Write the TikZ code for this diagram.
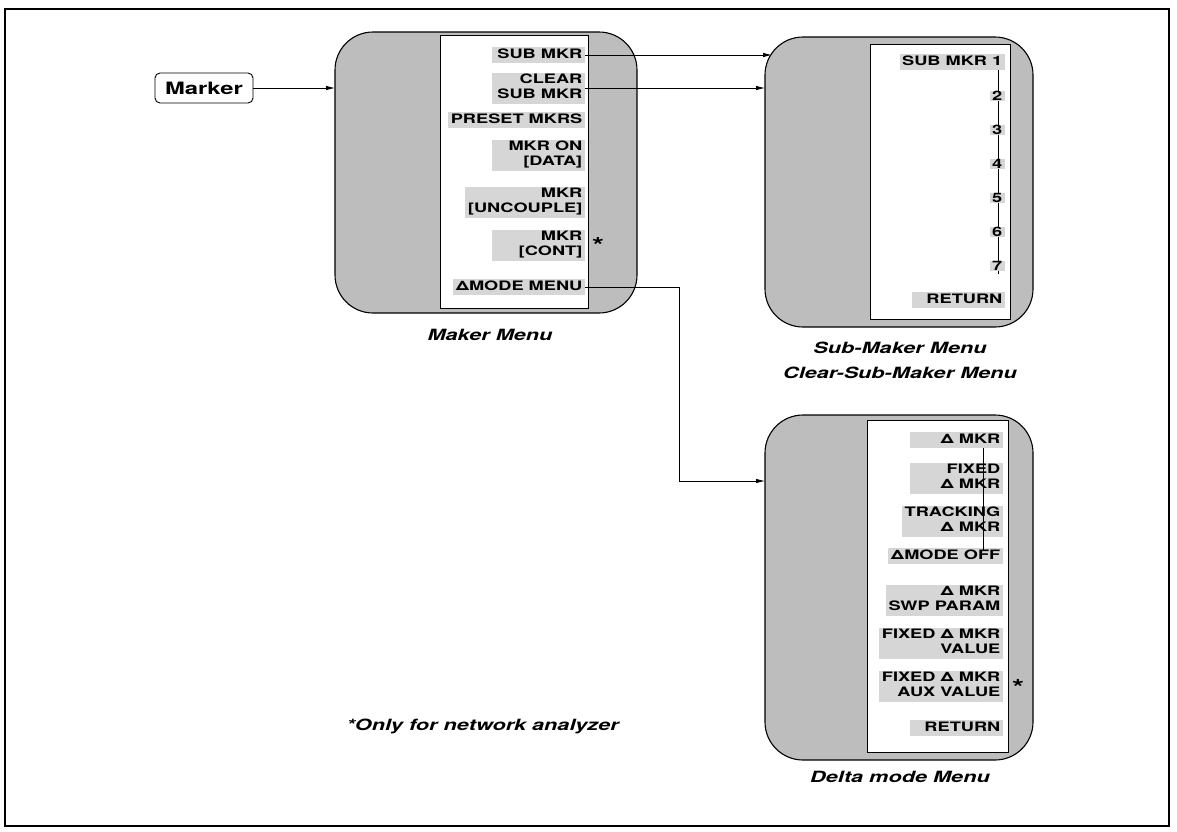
\documentclass[tikz,border=0pt]{standalone}
\usepackage{fontspec}
\setmainfont{TeX Gyre Heros}
\newfontfamily\mf[FakeStretch=1.4]{TeX Gyre Heros}
\usetikzlibrary{arrows.meta}
\definecolor{boxgray}{gray}{0.74}
\definecolor{hl}{gray}{0.84}
\newcommand\rbox[1]{\setbox0\hbox{#1}\ifdim\wd0<88pt\hbox to 88pt{\hfill\box0}\else\box0\fi}
\newcommand\mitem[1]{\rbox{\begin{tabular}{@{}r@{}}#1\end{tabular}}}
\tikzset{
  menubox/.style={draw, line width=1.1pt, fill=boxgray, rounded corners=38pt, inner sep=0pt, outer sep=0pt},
  panel/.style={draw, line width=0.8pt, fill=white, inner sep=0pt, outer sep=0pt},
  item/.style={anchor=east, fill=hl, inner xsep=2.5pt, inner ysep=0.5pt, font=\mf\bfseries\fontsize{13}{15}\selectfont},
  capt/.style={font=\mf\bfseries\itshape\fontsize{15.5}{18}\selectfont},
  conn/.style={line width=0.8pt, -{Latex[length=9pt,width=4.5pt]}},
  plainline/.style={line width=0.6pt},
  ast/.style={font=\mf\bfseries\fontsize{22}{22}\selectfont, inner sep=0pt}
}
\begin{document}
\begin{tikzpicture}[x=1pt,y=-1pt]
\path[use as bounding box] (0,0) rectangle (1177,831);
\draw[line width=1.2pt] (5,9) rectangle (1169,826);

% Marker key
\node[draw, line width=0.9pt, rounded corners=5pt, fill=white, minimum width=98pt, minimum height=30pt, inner sep=0pt,
      font=\mf\bfseries\fontsize{17}{18}\selectfont] (marker) at (204,88) {Marker};

% Menu boxes
\node[menubox, minimum width=302pt, minimum height=281pt] (maker) at (486,172.5) {};
\node[panel, minimum width=148pt, minimum height=273pt] (makerp) at (514,171.5) {};
\node[menubox, minimum width=268pt, minimum height=290pt] (sub) at (899,182) {};
\node[panel, minimum width=140pt, minimum height=275pt] (subp) at (940,181.5) {};
\node[menubox, minimum width=268pt, minimum height=345pt] (delta) at (899,587.5) {};
\node[panel, minimum width=141pt, minimum height=332pt] (deltap) at (937.5,586) {};

% Maker menu items
\node[item] (m1) at (585,55) {\mitem{SUB MKR}};
\node[item] (m2) at (585,88) {\mitem{CLEAR\\SUB MKR}};
\node[item] (m3) at (585,120) {\mitem{PRESET MKRS}};
\node[item] (m4) at (585,155) {\mitem{MKR ON\\{[DATA]}}};
\node[item] (m5) at (585,202) {\mitem{MKR\\{[UNCOUPLE]}}};
\node[item] (m6) at (585,245) {\mitem{MKR\\{[CONT]}}};
\node[item] (m7) at (585,287) {\mitem{ΔMODE MENU}};
\node[ast] (ast1) at (598,245) {*};

% Sub menu items
\coordinate (sl1) at (998,70);
\coordinate (sl2) at (998,274);
\draw[plainline] (sl1) -- (sl2);
\node[item] (s1) at (1005,62) {\mitem{SUB MKR 1}};
\node[item] (s2) at (1005,96) {2};
\node[item] (s3) at (1005,130) {3};
\node[item] (s4) at (1005,164) {4};
\node[item] (s5) at (1005,198) {5};
\node[item] (s6) at (1005,232) {6};
\node[item] (s7) at (1005,266) {7};
\node[item] (s8) at (1005,300) {\mitem{RETURN}};

% Delta menu items
\node[item] (d1) at (1003,440) {\mitem{Δ MKR}};
\node[item] (d2) at (1003,478) {\mitem{FIXED\\Δ MKR}};
\node[item] (d3) at (1003,521) {\mitem{TRACKING\\Δ MKR}};
\node[item] (d4) at (1003,556) {\mitem{ΔMODE OFF}};
\node[item] (d5) at (1003,600) {\mitem{Δ MKR\\SWP PARAM}};
\node[item] (d6) at (1003,643) {\mitem{FIXED Δ MKR\\VALUE}};
\node[item] (d7) at (1003,686) {\mitem{FIXED Δ MKR\\AUX VALUE}};
\node[item] (d8) at (1003,728) {\mitem{RETURN}};
\node[ast] (ast2) at (1018,687) {*};
\coordinate (dl1) at (983,448);
\coordinate (dl2) at (983,550);
\draw[line width=0.5pt] (dl1) -- (dl2);

% Connectors
\draw[conn] (marker.east) -- (marker.east -| maker.west);
\draw[conn] (m1.east) -- ([xshift=7pt]m1.east -| sub.west);
\draw[conn] (m2.east) -- (m2.east -| sub.west);
\coordinate (bend) at (679,481);
\draw[conn] (m7.east) -| (bend) -- (bend -| delta.west);

% Captions
\node[capt] (c1) at (490,335) {Maker Menu};
\node[capt] (c2) at (900,348) {Sub-Maker Menu};
\node[capt] (c3) at (900,373) {Clear-Sub-Maker Menu};
\node[capt] (c4) at (900,777) {Delta mode Menu};
\node[capt, anchor=west] (c5) at (343,726) {*Only for network analyzer};
\end{tikzpicture}
\end{document}
